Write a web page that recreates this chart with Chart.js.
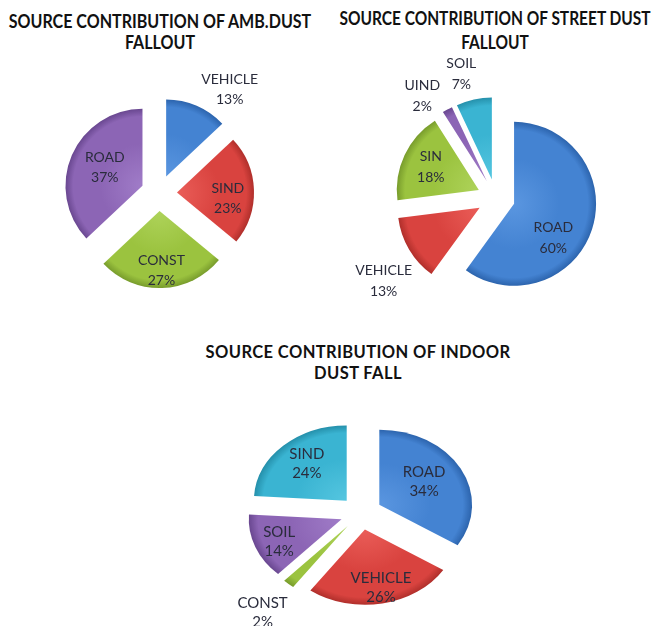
<!DOCTYPE html>
<html>
<head>
<meta charset="utf-8">
<script src="https://cdn.jsdelivr.net/npm/chart.js@4"></script>
<style>
  body { margin: 0; background: #fff; width: 660px; height: 626px; position: relative; overflow: hidden; }
  .title { position: absolute; font-family: Lato, sans-serif; font-weight: bold; text-align: center; color: #111; white-space: nowrap; transform-origin: 50% 50%; }
  canvas { position: absolute; }
</style>
</head>
<body>
<div class="title" id="t1" style="left:-40px; width:400px; top:10px; font-size:19px; line-height:21px; transform:scaleX(0.845);">SOURCE CONTRIBUTION OF AMB.DUST<br>FALLOUT</div>
<div class="title" id="t2" style="left:285px; width:420px; top:6px; font-size:19px; line-height:24px; transform:scaleX(0.815);">SOURCE CONTRIBUTION OF STREET DUST<br>FALLOUT</div>
<div class="title" id="t3" style="left:198px; width:320px; top:342px; font-size:16.5px; line-height:21px; letter-spacing:0.4px;">SOURCE CONTRIBUTION OF INDOOR<br>DUST FALL</div>

<canvas id="amb" width="300" height="300" style="left:9px; top:43px;"></canvas>
<canvas id="street" width="320" height="320" style="left:336px; top:38px;"></canvas>
<canvas id="indoor" width="320" height="226" style="left:201px; top:400px;"></canvas>

<script>
// ambient dust fallout
const ambLabels = ['VEHICLE', 'SIND', 'CONST', 'ROAD'];
const ambValues = [13, 23, 27, 37];

// street dust fallout
const streetLabels = ['ROAD', 'VEHICLE', 'SIN', 'UIND', 'SOIL'];
const streetValues = [60, 13, 18, 2, 7];

// indoor dust fall
const indoorLabels = ['ROAD', 'VEHICLE', 'CONST', 'SOIL', 'SIND'];
const indoorValues = [34, 26, 2, 14, 24];

// excel-ish palette: [light, base, dark]
const blue = ['#5a96e0', '#4483d2', '#2c64ad'];
const red = ['#ea5d58', '#d9433f', '#b02f2b'];
const green = ['#aed35a', '#9bc33f', '#789c2c'];
const purple = ['#a07cc8', '#8c65b5', '#694790'];
const cyan = ['#55c6e0', '#3ab4d2', '#2590ab'];

function shade(cols, R) {
    return function (c) {
        const col = cols[c.dataIndex];
        const area = c.chart.chartArea;
        if (!area) return col[1];
        const cx = (area.left + area.right) / 2;
        const cy = (area.top + area.bottom) / 2;
        const g = c.chart.ctx.createRadialGradient(cx, cy, 0, cx, cy, R);
        g.addColorStop(0, col[0]);
        g.addColorStop(0.55, col[1]);
        g.addColorStop(0.9, col[1]);
        g.addColorStop(1, col[2]);
        return g;
    };
}

// draw the slices pulled apart, squash the pie a bit, then write labels
const pieLook = {
    id: 'pieLook',
    beforeDatasetDraw(chart, args, opts) {
        const arcs = chart.getDatasetMeta(0).data;
        const ctx = chart.ctx;
        const cx = arcs[0].x, cy = arcs[0].y;
        ctx.save();
        ctx.translate(cx, cy);
        ctx.scale(opts.sx, opts.sy);
        ctx.translate(-cx, -cy);
        arcs.forEach(arc => {
            const h = (arc.startAngle + arc.endAngle) / 2;
            ctx.save();
            ctx.translate(Math.cos(h) * opts.explode, Math.sin(h) * opts.explode);
            arc.draw(ctx);
            ctx.restore();
        });
        ctx.restore();

        const labels = chart.data.labels;
        const vals = chart.data.datasets[0].data;
        ctx.save();
        ctx.font = opts.font;
        ctx.fillStyle = '#2a2c3c';
        ctx.textAlign = 'center';
        ctx.textBaseline = 'middle';
        arcs.forEach((arc, i) => {
            const p = opts.place[i];
            const a = (arc.startAngle + arc.endAngle) / 2 + p[0] * Math.PI / 180;
            const x = cx + Math.cos(a) * p[1] * opts.sx;
            const y = cy + Math.sin(a) * p[1] * opts.sy;
            ctx.fillText(labels[i], x, y - opts.lh / 2);
            ctx.fillText(vals[i] + '%', x, y + opts.lh / 2);
        });
        ctx.restore();
        return false;
    }
};

function makePie(id, labels, values, colors, R, look) {
    new Chart(document.getElementById(id), {
        type: 'pie',
        data: {
            labels: labels,
            datasets: [{
                data: values,
                backgroundColor: shade(colors, R),
                borderWidth: 0,
                radius: R
            }]
        },
        options: {
            responsive: false,
            animation: false,
            layout: { padding: 0 },
            plugins: {
                legend: { display: false },
                title: { display: false },
                tooltip: { enabled: false },
                pieLook: look
            }
        },
        plugins: [pieLook]
    });
}

makePie('amb', ambLabels, ambValues, [blue, red, green, purple], 77, {
    explode: 18, sx: 1, sy: 1, lh: 20, font: '14px Lato',
    place: [[11, 125], [6, 69], [0, 78], [2, 60]]
});

makePie('street', streetLabels, streetValues, [blue, red, green, purple, cyan], 82, {
    explode: 19, sx: 1, sy: 1, lh: 21, font: '14px Lato',
    place: [[17, 70], [-6, 140], [0, 72], [-7, 126], [-3, 129]]
});

makePie('indoor', indoorLabels, indoorValues, [blue, red, green, purple, cyan], 80, {
    explode: 18, sx: 1.16, sy: 0.94, lh: 19, font: '15px Lato',
    place: [[-3, 64], [-1.5, 81], [-1, 136], [-2, 77], [1.4, 70]]
});
</script>
</body>
</html>
